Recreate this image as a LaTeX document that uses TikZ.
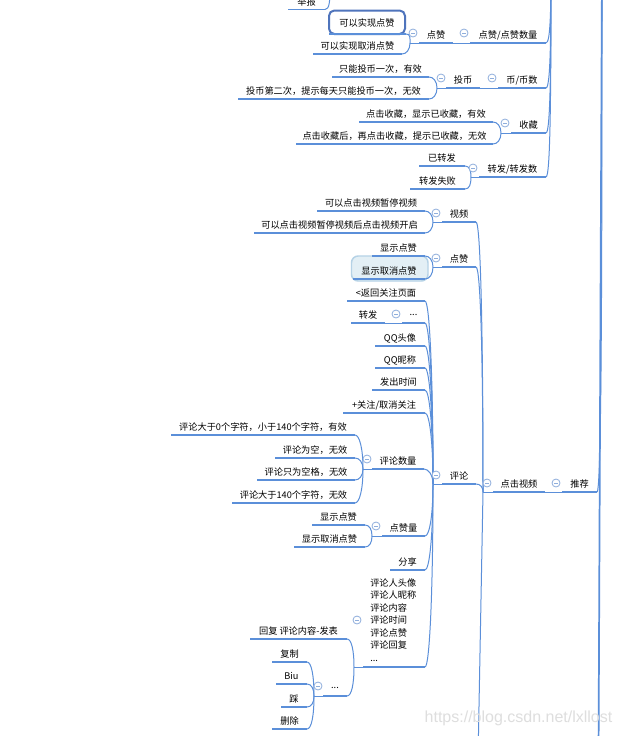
\documentclass[tikz,border=0pt]{standalone}
\usepackage{fontspec}
\setmainfont{Noto Sans CJK SC}
\newfontfamily\wmfont{Liberation Sans}
\usetikzlibrary{calc}
\definecolor{mapblue}{HTML}{5B8FD9}
\definecolor{circblue}{HTML}{8FAEDC}
\definecolor{boxblue}{HTML}{4F74BC}
\definecolor{softedge}{HTML}{B5D2E6}
\definecolor{softfill}{HTML}{E3EFF5}
\newcommand{\fc}{\char"FF0C\relax}
\tikzset{
  under/.style={draw=mapblue,line width=1.3pt},
  linkline/.style={draw=mapblue,line width=0.75pt},
  lbl/.style={inner sep=0pt,font=\fontsize{6.9}{9.4}\selectfont,text=black},
  fold/.style={circle,draw=circblue,fill=white,line width=0.6pt,minimum size=6pt,inner sep=0pt},
}
\newcommand{\topic}[5]{%
  \coordinate (#1l) at (#2,#4);
  \coordinate (#1r) at (#3,#4);
  \draw[under] (#1l)--(#1r);
  \node[lbl] (#1) at ({(#2+#3)/2},{#4-8}) {#5};}
\newcommand{\lnk}[2]{%
  \draw[linkline] (#1) .. controls ($(#1)+(4.5,0)$) and ($(#2)!0.6!(#2|-#1)$) .. (#2);}
\newcommand{\foldmark}[3]{%
  \node[fold] (#1) at (#2,#3) {};
  \draw[circblue,line width=0.6pt] ($(#1)+(-2,0)$)--($(#1)+(2,0)$);}
\begin{document}
\begin{tikzpicture}[x=0.75pt,y=-0.75pt]
\useasboundingbox (0,0) rectangle (621,736);
\fill[white] (0,0) rectangle (621,736);
\clip (0,0) rectangle (621,736);
% joints
\coordinate (jreport) at (330,-12);
\coordinate (jlike) at (410,43);
\coordinate (jcoin) at (437,88);
\coordinate (jfav) at (501,133);
\coordinate (jshare) at (471,177);
\coordinate (jup) at (551,-40);
\coordinate (jvid) at (433,222);
\coordinate (jlk) at (433,267);
\coordinate (jcom) at (433,484);
\coordinate (jnum) at (363,469);
\coordinate (jlq) at (372,536);
\coordinate (jmulti) at (354,667);
\coordinate (jdots) at (314,696);
\coordinate (jclick) at (483,492);
\coordinate (jright) at (602,-30);
\coordinate (jbottom) at (478,760);
\coordinate (jrbottom) at (598.5,760);
% highlighted boxes
\draw[draw=boxblue,line width=1.5pt,rounded corners=4pt,fill=white] (329,10.5) rectangle (405,34);
\draw[draw=softedge,line width=1.1pt,rounded corners=5pt,fill=softfill] (351.5,256) rectangle (428,281);
% top branch
\topic{report}{288}{325}{9.5}{举报}
\coordinate (kal) at (329,34);
\coordinate (kar) at (406,34);
\draw[under] (kal)--(kar);
\node[lbl] (ka) at (367,23) {可以实现点赞};
\topic{kb}{313}{402}{54}{可以实现取消点赞}
\topic{like}{419}{453}{43}{点赞}
\topic{likes}{470}{546}{43}{点赞/点赞数量}
\topic{ca}{332}{429}{77}{只能投币一次\fc 有效}
\topic{cb}{238}{429}{99}{投币第二次\fc 提示每天只能投币一次\fc 无效}
\topic{coin}{446}{480}{88}{投币}
\topic{coins}{498}{546}{88}{币/币数}
\topic{fa}{359}{493}{122}{点击收藏\fc 显示已收藏\fc 有效}
\topic{fb}{296}{493}{144}{点击收藏后\fc 再点击收藏\fc 提示已收藏\fc 无效}
\topic{fav}{511}{546}{133}{收藏}
\topic{sa}{419}{465}{166}{已转发}
\topic{sb}{410}{465}{189}{转发失败}
\topic{share}{479}{546}{177}{转发/转发数}
% video and like
\topic{va}{317}{425}{211}{可以点击视频暂停视频}
\topic{vb}{254}{425}{233}{可以点击视频暂停视频后点击视频开启}
\topic{vid}{442}{476}{222}{视频}
\topic{la}{372}{425}{256}{显示点赞}
\topic{lb}{353}{425}{279}{显示取消点赞}
\topic{lk}{442}{476}{267}{点赞}
% comment children
\topic{back}{347}{425}{301}{<返回关注页面}
\topic{more}{402}{425}{323}{...}
\topic{fwd}{351}{385}{323}{转发}
\topic{qa}{375}{425}{346}{QQ头像}
\topic{qb}{375}{425}{368}{QQ昵称}
\topic{time}{372}{425}{390}{发出时间}
\topic{follow}{343}{425}{413}{+关注/取消关注}
\topic{na}{171}{355}{435}{评论大于0个字符\fc 小于140个字符\fc 有效}
\topic{nb}{275}{355}{458}{评论为空\fc 无效}
\topic{nc}{257}{355}{480}{评论只为空格\fc 无效}
\topic{nd}{232}{355}{503}{评论大于140个字符\fc 无效}
\topic{num}{372}{424}{469}{评论数量}
\topic{lqa}{312}{365}{525}{显示点赞}
\topic{lqb}{294}{365}{547}{显示取消点赞}
\topic{lq}{382}{425}{536}{点赞量}
\topic{shr}{390}{425}{570}{分享}
\coordinate (multil) at (363,667);
\coordinate (multir) at (425,667);
\draw[under] (multil)--(multir);
\node[lbl,align=left,anchor=west] (multi) at (370,620) {评论人头像\\评论人昵称\\评论内容\\评论时间\\评论点赞\\评论回复\\...};
\topic{rep}{250}{347}{639}{回复 评论内容-发表}
\topic{dots}{323}{347}{696}{...}
\topic{da}{272}{307}{662}{复制}
\topic{db}{276}{307}{684}{Biu}
\topic{dc}{281}{307}{707}{踩}
\topic{dd}{272}{307}{729}{删除}
\topic{com}{442}{476}{484}{评论}
\topic{click}{493}{545}{492}{点击视频}
\topic{rec}{562}{597}{492}{推荐}
% connectors
\lnk{reportr}{jreport}
\lnk{kar}{jlike}
\lnk{kbr}{jlike}
\lnk{car}{jcoin}
\lnk{cbr}{jcoin}
\lnk{far}{jfav}
\lnk{fbr}{jfav}
\lnk{sar}{jshare}
\lnk{sbr}{jshare}
\lnk{likesr}{jup}
\lnk{coinsr}{jup}
\lnk{favr}{jup}
\lnk{sharer}{jup}
\draw[linkline] (jlike)--(likel);
\draw[linkline] (liker)--(likesl);
\draw[linkline] (jcoin)--(coinl);
\draw[linkline] (coinr)--(coinsl);
\draw[linkline] (jfav)--(favl);
\draw[linkline] (jshare)--(sharel);
\lnk{var}{jvid}
\lnk{vbr}{jvid}
\lnk{lar}{jlk}
\lnk{lbr}{jlk}
\draw[linkline] (jvid)--(vidl);
\draw[linkline] (jlk)--(lkl);
\lnk{backr}{jcom}
\lnk{morer}{jcom}
\lnk{qar}{jcom}
\lnk{qbr}{jcom}
\lnk{timer}{jcom}
\lnk{followr}{jcom}
\lnk{numr}{jcom}
\lnk{lqr}{jcom}
\lnk{shrr}{jcom}
\lnk{multir}{jcom}
\draw[linkline] (fwdr)--(morel);
\lnk{nar}{jnum}
\lnk{nbr}{jnum}
\lnk{ncr}{jnum}
\lnk{ndr}{jnum}
\draw[linkline] (jnum)--(numl);
\lnk{lqar}{jlq}
\lnk{lqbr}{jlq}
\draw[linkline] (jlq)--(lql);
\lnk{repr}{jmulti}
\lnk{dotsr}{jmulti}
\draw[linkline] (jmulti)--(multil);
\lnk{dar}{jdots}
\lnk{dbr}{jdots}
\lnk{dcr}{jdots}
\lnk{ddr}{jdots}
\draw[linkline] (jdots)--(dotsl);
\draw[linkline] (jcom)--(coml);
\lnk{comr}{jclick}
\lnk{vidr}{jclick}
\lnk{lkr}{jclick}
\draw[linkline] (jclick)--(clickl);
\draw[linkline] (jclick)--(jbottom);
\draw[linkline] (clickr)--(recl);
\lnk{recr}{jright}
\draw[under] (jright)--(jrbottom);
% fold marks
\foldmark{c1}{413}{33}
\foldmark{c2}{464}{33}
\foldmark{c3}{441}{78}
\foldmark{c4}{492}{78}
\foldmark{c5}{505}{123}
\foldmark{c6}{473}{168}
\foldmark{c7}{436}{213}
\foldmark{c8}{436}{258}
\foldmark{c9}{396}{314}
\foldmark{c10}{436}{475}
\foldmark{c11}{487}{483}
\foldmark{c12}{556}{483}
\foldmark{c13}{367}{459}
\foldmark{c14}{376}{526}
\foldmark{c15}{357}{620}
\foldmark{c16}{318}{686}
% watermark
\node[inner sep=0pt,text=black!13,font=\wmfont\fontsize{12}{14}\selectfont] (mark) at (518.5,718) {https://blog.csdn.net/lxllost};
\end{tikzpicture}
\end{document}
